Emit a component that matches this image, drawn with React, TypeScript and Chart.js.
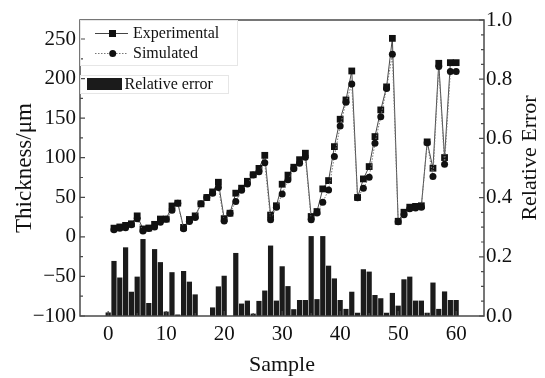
import React, { useEffect, useRef } from 'react';
import { Chart, registerables } from 'chart.js';

Chart.register(...registerables);

const FONT = "'Liberation Serif', 'Times New Roman', Times, serif";

const samples = [
  1, 2, 3, 4, 5, 6, 7, 8, 9, 10,
  11, 12, 13, 14, 15, 16, 17, 18, 19, 20,
  21, 22, 23, 24, 25, 26, 27, 28, 29, 30,
  31, 32, 33, 34, 35, 36, 37, 38, 39, 40,
  41, 42, 43, 44, 45, 46, 47, 48, 49, 50,
  51, 52, 53, 54, 55, 56, 57, 58, 59, 60,
];

const experimental = [
  11, 12.5, 14.5, 16.5, 26.5, 10, 11.2, 15.8, 22.5, 22.5,
  39, 42.6, 12, 22, 26.5, 41.7, 49.7, 56.8, 69, 23,
  29.9, 55.2, 61.5, 70.2, 78.5, 86.5, 103, 27.5, 39.3, 66.5,
  78, 88, 97.5, 105.7, 25.7, 32, 60.6, 71.1, 114, 148.6,
  173, 209.6, 49.8, 73.2, 88.8, 126.7, 160.4, 189.5, 250.8, 19.7,
  31.1, 37.5, 38.5, 39.3, 120, 86.7, 219.3, 100.2, 220.1, 220.1,
];

const simulated = [
  9, 11, 11.5, 15.2, 23, 7.5, 10.7, 12.5, 18.5, 22.1,
  33.5, 42.4, 10.2, 19.5, 24.5, 41.7, 49.7, 55.2, 62.5, 20,
  29.9, 44.6, 59, 66.7, 78, 82.3, 93.5, 21.5, 37.3, 54,
  72, 86, 93, 100.6, 21.5, 30.2, 43.8, 59.3, 101.4, 140,
  170, 193, 49.3, 61.4, 75.3, 118.3, 151.9, 187.5, 230.6, 19.1,
  27.8, 35.4, 36.5, 37.3, 119, 76.2, 215.1, 91.7, 208.8, 208.8,
];

const errorSamples = [
  0, 1, 2, 3, 4, 5, 6, 7, 8, 9,
  10, 11, 12, 13, 14, 15, 16, 17, 18, 19,
  20, 21, 22, 23, 24, 25, 26, 27, 28, 29,
  30, 31, 32, 33, 34, 35, 36, 37, 38, 39,
  40, 41, 42, 43, 44, 45, 46, 47, 48, 49,
  50, 51, 52, 53, 54, 55, 56, 57, 58, 59, 60,
];

const relativeError = [
  0.012, 0.186, 0.13, 0.232, 0.082, 0.133, 0.26, 0.044, 0.226, 0.182,
  0.015, 0.148, 0.005, 0.152, 0.116, 0.073, 0, 0, 0.029, 0.1,
  0.136, 0, 0.213, 0.042, 0.052, 0.008, 0.051, 0.086, 0.238, 0.052,
  0.168, 0.101, 0.023, 0.054, 0.054, 0.27, 0.057, 0.27, 0.17, 0.127,
  0.054, 0.024, 0.082, 0.011, 0.158, 0.15, 0.071, 0.06, 0.011, 0.078,
  0.035, 0.124, 0.133, 0.052, 0.052, 0.011, 0.113, 0.024, 0.083, 0.054, 0.054,
];

const xTicks = [0, 10, 20, 30, 40, 50, 60];
const xMinorTicks = [5, 15, 25, 35, 45, 55];
const leftTicks = [-100, -50, 0, 50, 100, 150, 200, 250];
const leftMinorTicks = [-75, -25, 25, 75, 125, 175, 225];
const rightTicks = [0, 0.2, 0.4, 0.6, 0.8, 1.0];
const rightMinorTicks = [0.05, 0.1, 0.15, 0.25, 0.3, 0.35, 0.45, 0.5, 0.55, 0.65, 0.7, 0.75, 0.85, 0.9, 0.95];

const legendLabels = ['Experimental', 'Simulated', 'Relative error'];
const rightTitle = 'Relative Error';

const framePlugin = {
  id: 'frameTicks',
  afterDatasetsDraw(chart: any) {
    const { ctx, chartArea: a, scales } = chart;
    ctx.save();
    ctx.strokeStyle = '#4a4a4a';
    ctx.lineWidth = 1.2;
    const major = 5;
    const minor = 3;
    ctx.beginPath();
    xTicks.forEach((v) => {
      const p = scales.x.getPixelForValue(v);
      ctx.moveTo(p, a.bottom);
      ctx.lineTo(p, a.bottom - major);
    });
    xMinorTicks.forEach((v) => {
      const p = scales.x.getPixelForValue(v);
      ctx.moveTo(p, a.bottom);
      ctx.lineTo(p, a.bottom - minor);
    });
    leftTicks.forEach((v) => {
      const p = scales.y.getPixelForValue(v);
      ctx.moveTo(a.left, p);
      ctx.lineTo(a.left + major, p);
    });
    leftMinorTicks.forEach((v) => {
      const p = scales.y.getPixelForValue(v);
      ctx.moveTo(a.left, p);
      ctx.lineTo(a.left + minor, p);
    });
    rightTicks.forEach((v) => {
      const p = scales.y1.getPixelForValue(v);
      ctx.moveTo(a.right, p);
      ctx.lineTo(a.right - major, p);
    });
    rightMinorTicks.forEach((v) => {
      const p = scales.y1.getPixelForValue(v);
      ctx.moveTo(a.right, p);
      ctx.lineTo(a.right - minor, p);
    });
    ctx.stroke();
    ctx.lineWidth = 1.5;
    ctx.strokeRect(a.left, a.top, a.right - a.left, a.bottom - a.top);
    ctx.restore();
  },
};

const legendPlugin = {
  id: 'customLegend',
  afterDraw(chart: any) {
    const { ctx, chartArea: a } = chart;
    const x0 = a.left;
    const y0 = a.top;
    ctx.save();
    ctx.strokeStyle = '#e6e6e6';
    ctx.lineWidth = 1;
    ctx.strokeRect(x0 + 0.5, y0 + 0.5, 157, 45);
    ctx.strokeRect(x0 + 0.5, y0 + 55.5, 148, 18);

    // Experimental
    ctx.strokeStyle = '#444';
    ctx.lineWidth = 1;
    ctx.beginPath();
    ctx.moveTo(x0 + 15, y0 + 13.5);
    ctx.lineTo(x0 + 48, y0 + 13.5);
    ctx.stroke();
    ctx.fillStyle = '#111';
    ctx.fillRect(x0 + 29, y0 + 10, 7, 7);

    // Simulated
    ctx.strokeStyle = '#777';
    ctx.setLineDash([1.5, 1.5]);
    ctx.beginPath();
    ctx.moveTo(x0 + 15, y0 + 33.5);
    ctx.lineTo(x0 + 48, y0 + 33.5);
    ctx.stroke();
    ctx.setLineDash([]);
    ctx.beginPath();
    ctx.arc(x0 + 32.7, y0 + 33.5, 3.5, 0, Math.PI * 2);
    ctx.fill();

    // Relative error
    ctx.fillStyle = '#1b1b1b';
    ctx.fillRect(x0 + 7, y0 + 58, 35, 12);

    ctx.fillStyle = '#111';
    ctx.font = `16px ${FONT}`;
    ctx.textBaseline = 'middle';
    ctx.textAlign = 'left';
    ctx.fillText(legendLabels[0], x0 + 53, y0 + 13.5);
    ctx.fillText(legendLabels[1], x0 + 53, y0 + 33.5);
    ctx.fillText(legendLabels[2], x0 + 44.5, y0 + 65);

    // Right axis title, reading bottom-to-top
    ctx.font = `22px ${FONT}`;
    ctx.textAlign = 'center';
    ctx.translate(a.right + 46, (a.top + a.bottom) / 2 - 10);
    ctx.rotate(-Math.PI / 2);
    ctx.fillText(rightTitle, 0, 0);
    ctx.restore();
  },
};

export default function App() {
  const ref = useRef<HTMLCanvasElement | null>(null);

  useEffect(() => {
    const canvas = ref.current;
    if (!canvas) return;
    const tickFont = { family: FONT, size: 21 };
    const titleFont = { family: FONT, size: 22 };
    const chart = new Chart(canvas, {
      type: 'bar',
      data: {
        datasets: [
          {
            type: 'line',
            label: legendLabels[0],
            data: samples.map((s, i) => ({ x: s, y: experimental[i] })),
            xAxisID: 'x',
            yAxisID: 'y',
            borderColor: '#4a4a4a',
            borderWidth: 1,
            pointStyle: 'rect',
            pointRadius: 4.8,
            pointBackgroundColor: '#111',
            pointBorderColor: '#111',
            pointBorderWidth: 0,
            tension: 0,
            order: 1,
          },
          {
            type: 'line',
            label: legendLabels[1],
            data: samples.map((s, i) => ({ x: s, y: simulated[i] })),
            xAxisID: 'x',
            yAxisID: 'y',
            borderColor: '#777',
            borderWidth: 1,
            borderDash: [1.5, 1.5],
            pointStyle: 'circle',
            pointRadius: 3.5,
            pointBackgroundColor: '#111',
            pointBorderColor: '#111',
            pointBorderWidth: 0,
            tension: 0,
            order: 0,
          },
          {
            type: 'bar',
            label: legendLabels[2],
            data: errorSamples.map((s, i) => ({ x: s, y: relativeError[i] })),
            xAxisID: 'x',
            yAxisID: 'y1',
            backgroundColor: '#1b1b1b',
            borderWidth: 0,
            barPercentage: 0.9,
            categoryPercentage: 1,
            order: 2,
          },
        ],
      } as any,
      options: {
        animation: false,
        responsive: false,
        maintainAspectRatio: false,
        layout: { padding: { top: 20, left: 0, right: 0, bottom: 0 } },
        plugins: { legend: { display: false }, tooltip: { enabled: false } },
        scales: {
          x: {
            type: 'linear',
            position: 'bottom',
            offset: false,
            min: -4.86,
            max: 64.8,
            afterFit: (s: any) => { s.height = 62; },
            afterBuildTicks: (s: any) => { s.ticks = xTicks.map((v) => ({ value: v })); },
            grid: { display: false, drawTicks: false },
            border: { display: false },
            ticks: { font: tickFont, color: '#111', padding: 6, maxRotation: 0, autoSkip: false },
            title: { display: true, text: 'Sample', font: titleFont, color: '#111', padding: { top: 0, bottom: 0 } },
          },
          y: {
            type: 'linear',
            position: 'left',
            min: -100,
            max: 274,
            afterFit: (s: any) => { s.width = 80; },
            afterBuildTicks: (s: any) => { s.ticks = leftTicks.map((v) => ({ value: v })); },
            grid: { display: false, drawTicks: false },
            border: { display: false },
            ticks: {
              font: tickFont,
              color: '#111',
              padding: 4,
              callback: (v: any) => (v < 0 ? '\u2212' + Math.abs(v) : String(v)),
            },
            title: { display: true, text: 'Thickness/\u03bcm', font: { family: FONT, size: 23 }, color: '#111', padding: { top: 11, bottom: 0 } },
          },
          y1: {
            type: 'linear',
            position: 'right',
            min: 0,
            max: 1,
            afterFit: (s: any) => { s.width = 61; },
            afterBuildTicks: (s: any) => { s.ticks = rightTicks.map((v) => ({ value: v })); },
            grid: { display: false, drawTicks: false },
            border: { display: false },
            ticks: {
              font: tickFont,
              color: '#111',
              padding: 2,
              callback: (v: any) => Number(v).toFixed(1),
            },
            title: { display: false },
          },
        },
      } as any,
      plugins: [framePlugin, legendPlugin],
    });
    return () => chart.destroy();
  }, []);

  return (
    <div style={{ position: 'fixed', left: 0, top: 0, width: 545, height: 378, background: '#fff' }}>
      <canvas ref={ref} width={545} height={378} style={{ width: 545, height: 378, display: 'block' }} />
    </div>
  );
}
